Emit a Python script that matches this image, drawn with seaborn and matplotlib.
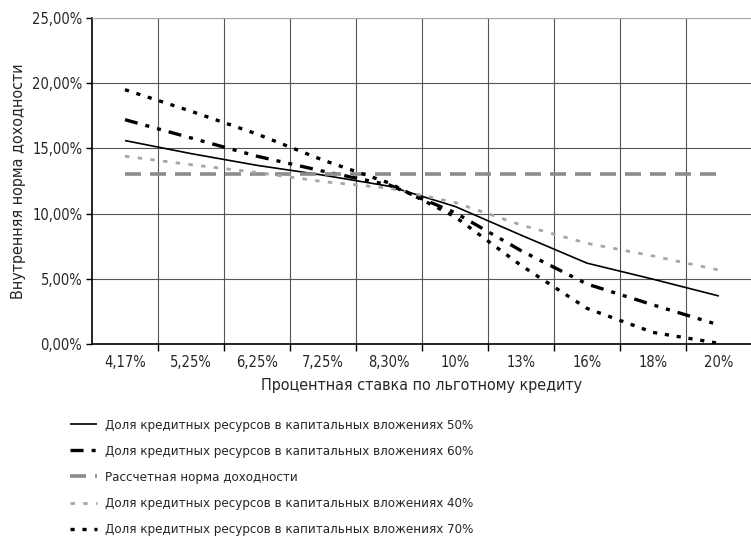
import matplotlib
matplotlib.use('Agg')
import matplotlib.pyplot as plt
from matplotlib.ticker import FuncFormatter, FixedLocator
import seaborn as sns

rates = ['4,17%', '5,25%', '6,25%', '7,25%', '8,30%', '10%', '13%', '16%', '18%', '20%']
share_50 = [15.6, 14.6, 13.7, 12.95, 12.1, 10.55, 8.35, 6.2, 4.97, 3.68]
share_60 = [17.2, 15.8, 14.4, 13.25, 12.2, 10.07, 7.16, 4.6, 3.0, 1.46]
norm = [13.0, 13.0, 13.0, 13.0, 13.0, 13.0, 13.0, 13.0, 13.0, 13.0]
share_40 = [14.4, 13.75, 13.15, 12.45, 11.95, 10.85, 9.13, 7.72, 6.75, 5.67]
share_70 = [19.5, 17.85, 16.1, 14.1, 12.35, 9.76, 6.03, 2.73, 0.89, 0.05]

labels = ['Доля кредитных ресурсов в капитальных вложениях 50%',
          'Доля кредитных ресурсов в капитальных вложениях 60%',
          'Рассчетная норма доходности',
          'Доля кредитных ресурсов в капитальных вложениях 40%',
          'Доля кредитных ресурсов в капитальных вложениях 70%']

sns.set_style('white')
plt.rcParams['font.family'] = ['DejaVu Sans']
plt.rcParams['font.stretch'] = 'condensed'
plt.rcParams['lines.scale_dashes'] = False

fig = plt.figure(figsize=(7.51, 5.38), dpi=100)
ax = fig.add_axes([0.1225, 0.3606, 0.8788, 0.606])

x = list(range(len(rates)))
styles = [
    (share_50, 'black', 1.2, (0, ())),
    (share_60, 'black', 2.4, (0, (9.4, 5.8, 2.9, 5.8, 2.9, 5.8))),
    (norm, '#8c8c8c', 2.6, (0, (11.5, 6.5))),
    (share_40, '#a6a6a6', 2.0, (0, (3.2, 6.0))),
    (share_70, 'black', 2.4, (0, (3.0, 5.6))),
]
for (vals, col, lw, ls), lab in zip(styles, labels):
    sns.lineplot(x=x, y=vals, ax=ax, color=col, linewidth=lw, linestyle=ls, label=lab)

ax.set_xlim(-0.5, len(rates) - 0.5)
ax.set_ylim(0, 25)
ax.set_xticks(x)
ax.set_xticklabels(rates, fontsize=10.5)
ax.xaxis.set_minor_locator(FixedLocator([i + 0.5 for i in range(len(rates) - 1)]))
ax.tick_params(axis='x', which='major', length=0, pad=8)
ax.tick_params(axis='x', which='minor', length=5, width=1, color='black', direction='out', bottom=True)
ax.set_yticks([0, 5, 10, 15, 20, 25])
ax.yaxis.set_major_formatter(FuncFormatter(lambda v, p: f'{v:.2f}%'.replace('.', ',')))
ax.tick_params(axis='y', length=4, width=1, color='black', direction='out', left=True, labelsize=10.5, pad=3)

ax.grid(axis='y', which='major', color='#555555', linewidth=0.8)
ax.grid(axis='x', which='minor', color='#555555', linewidth=0.8)
ax.set_axisbelow(True)

ax.spines['left'].set_color('black')
ax.spines['left'].set_linewidth(1.2)
ax.spines['bottom'].set_color('black')
ax.spines['bottom'].set_linewidth(1.2)
ax.spines['top'].set_color('#aaaaaa')
ax.spines['right'].set_visible(False)

ax.set_xlabel('Процентная ставка по льготному кредиту', fontsize=11.5, labelpad=6)
ax.set_ylabel('Внутренняя норма доходности', fontsize=11.5, labelpad=4)

handles, labs = ax.get_legend_handles_labels()
ax.get_legend().remove()
fig.legend(handles, labs, loc='upper left', bbox_to_anchor=(0.0932, 0.222),
           frameon=False, fontsize=9.5, handlelength=2.05, handletextpad=0.6,
           labelspacing=1.0, borderpad=0, borderaxespad=0)

fig.savefig('out.png', dpi=100)
